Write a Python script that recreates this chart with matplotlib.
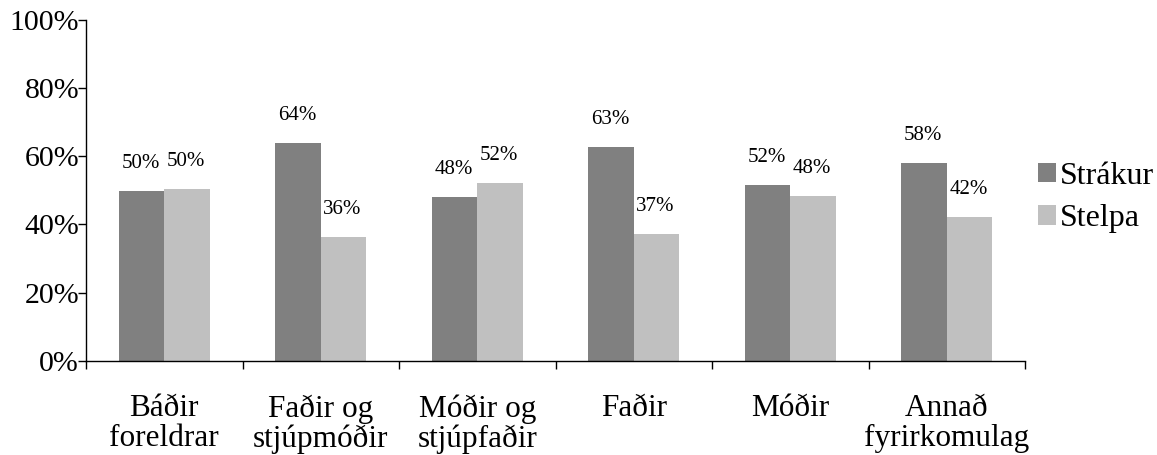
import numpy as np
import matplotlib
matplotlib.use('Agg')
import matplotlib.pyplot as plt

plt.rcParams['font.family'] = ['Liberation Serif', 'DejaVu Serif']

# Gögn lesin af myndinni
categories = ['Báðir\nforeldrar', 'Faðir og\nstjúpmóðir', 'Móðir og\nstjúpfaðir',
              'Faðir', 'Móðir', 'Annað\nfyrirkomulag']
strakur = [49.7, 63.7, 48.0, 62.7, 51.6, 57.9]
stelpa = [50.3, 36.3, 52.0, 37.3, 48.4, 42.1]
series_names = ['Strákur', 'Stelpa']
colors = ['#808080', '#c0c0c0']

fig = plt.figure(figsize=(11.57, 4.55), dpi=100)
ax = fig.add_axes([86 / 1157, 1 - 361 / 455, (1025 - 86) / 1157, (361 - 19.5) / 455])

x = np.arange(len(categories))
w = 0.29
bars1 = ax.bar(x - w / 2, strakur, w, color=colors[0], label=series_names[0])
bars2 = ax.bar(x + w / 2, stelpa, w, color=colors[1], label=series_names[1])

# Gildismerki fyrir ofan súlur
for bars, vals in [(bars1, strakur), (bars2, stelpa)]:
    for b, v in zip(bars, vals):
        ax.annotate(f'{v:.0f}%', (b.get_x() + b.get_width() / 2, b.get_height()),
                    xytext=(-1, 18), textcoords='offset pixels',
                    ha='center', va='bottom', fontsize=15)

ax.set_xlim(-0.5, len(categories) - 0.5)
ax.set_ylim(0, 100)
ax.set_yticks(np.arange(0, 101, 20))
ax.set_yticklabels([f'{t}%' for t in range(0, 101, 20)], fontsize=21.5)
ax.tick_params(axis='y', length=6, width=1, pad=-1, direction='out')

# Hak á mörkum flokka, merki í miðju
ax.set_xticks(np.arange(-0.5, len(categories), 1.0))
ax.set_xticklabels([])
ax.set_xticks(x, minor=True)
ax.set_xticklabels(categories, minor=True, fontsize=22.5, linespacing=1.05)
ax.tick_params(axis='x', which='major', length=6, width=1, direction='out')
ax.tick_params(axis='x', which='minor', length=0, pad=24)

for s in ['top', 'right']:
    ax.spines[s].set_visible(False)
for s in ['left', 'bottom']:
    ax.spines[s].set_linewidth(1)

fig.legend(handles=[bars1, bars2], labels=series_names, loc='upper left',
           bbox_to_anchor=(1038 / 1157, 1 - 162 / 455), frameon=False,
           fontsize=23, handlelength=0.55, handleheight=0.55,
           handletextpad=0.15, labelspacing=0.42, borderpad=0, borderaxespad=0)

fig.savefig('out.png', dpi=100)
